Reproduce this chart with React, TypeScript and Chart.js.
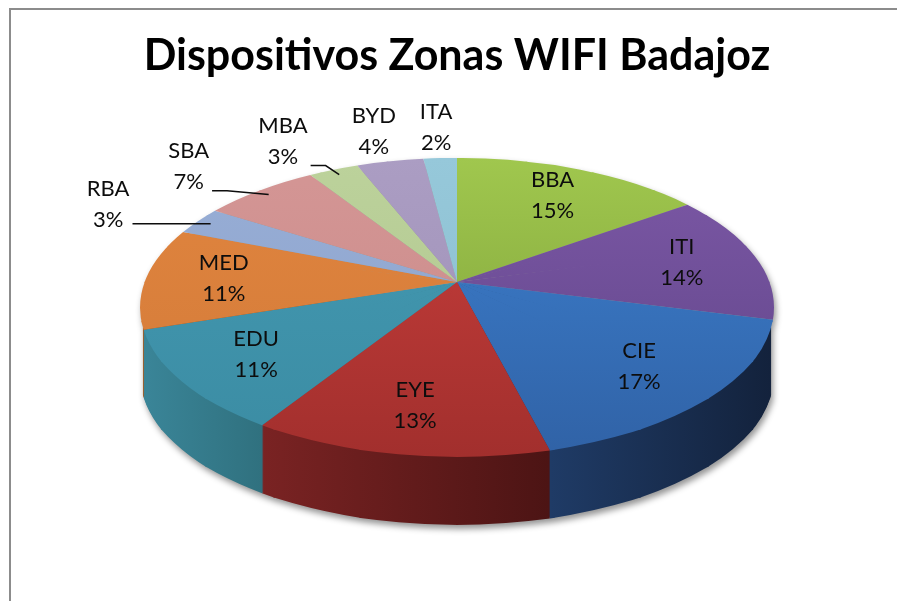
import React, { useEffect, useRef } from 'react';
import { Chart, registerables } from 'chart.js';

Chart.register(...registerables);

// ---- data ----
const categories = ['BBA', 'ITI', 'CIE', 'EYE', 'EDU', 'MED', 'RBA', 'SBA', 'MBA', 'BYD', 'ITA'];
const devicePercent = [15, 14, 17, 13, 11, 11, 3, 7, 3, 4, 2];
const chartTitle = 'Dispositivos Zonas WIFI Badajoz';

// ---- palette ----
const topLight = ['#a0c74e', '#7c58a6', '#3d80cf', '#c93f3c', '#449ab3', '#e1853f', '#98aed6', '#d49695', '#bcd29b', '#ab9dc3', '#96c8da'];
const topDark = ['#7a9c37', '#5f4487', '#3062a6', '#a22f2d', '#3b8ca3', '#d27a38', '#8ba2cb', '#c98988', '#afc48e', '#9d8fb5', '#89bccd'];
const sideLight = ['#6d8c2e', '#503973', '#1f3b66', '#7a2323', '#3a8598', '#b0642a', '#5f7aa0', '#9a5c5b', '#7f9460', '#6f5f87', '#5b8e9e'];
const sideDark = ['#5b7526', '#3f2c5c', '#13223c', '#4c1414', '#30717f', '#93521f', '#4d6688', '#824b4a', '#6b7e50', '#5c4e72', '#4b7a89'];

const FONT = 'Lato, "Open Sans", "DejaVu Sans", sans-serif';
const DEPTH = 68; // pixel height of the pie wall
const PERSPECTIVE = 0.17; // strength of the 3D perspective
const WALL_EDGE_DEG = 107; // where the visible wall begins / ends (clock angle)
const KEY_STEP_DEG = 15;
const HALF_PI = Math.PI / 2;

function drawArcWith(ctx: CanvasRenderingContext2D, arc: any, fill: any) {
  const fake = Object.create(arc);
  fake.options = { ...arc.options, backgroundColor: fill, borderWidth: 0 };
  fake.draw(ctx);
}

// maps a clock angle (0 = 12 o'clock, clockwise) and radial fraction to screen
function makeProjector(chart: any) {
  const arcs = chart.getDatasetMeta(0).data as any[];
  const a0 = arcs[0];
  const ca = chart.chartArea;
  const e = PERSPECTIVE;
  const rx = ca.width / 2;
  const A = rx * Math.sqrt(1 - e * e);
  const B = (ca.height * (1 - e * e)) / 2;
  const X0 = (ca.left + ca.right) / 2;
  const Y0 = ca.top + B / (1 + e);
  const proj = (phi: number, f = 1): [number, number] => {
    const u = f * Math.sin(phi);
    const w = f * Math.cos(phi);
    const s = 1 / (1 + e * w);
    return [X0 + A * u * s, Y0 - B * w * s];
  };
  const phiR = (WALL_EDGE_DEG * Math.PI) / 180;
  const phiL = 2 * Math.PI - phiR;
  return { proj, X0, Y0, ax: a0.x, ay: a0.y, R: a0.outerRadius, phiR, phiL };
}

function buildSectors(P: any) {
  const { proj, X0, Y0, ax, ay, R } = P;
  const n = Math.round(360 / KEY_STEP_DEG);
  const step = (2 * Math.PI) / n;
  const out: any[] = [];
  for (let k = 0; k < n; k++) {
    const f1 = k * step;
    const f2 = (k + 1) * step;
    const t1 = f1 - HALF_PI;
    const t2 = f2 - HALF_PI;
    const v1x = R * Math.cos(t1), v1y = R * Math.sin(t1);
    const v2x = R * Math.cos(t2), v2y = R * Math.sin(t2);
    const [q1x, q1y] = proj(f1);
    const [q2x, q2y] = proj(f2);
    const [qmx, qmy] = proj((f1 + f2) / 2);
    const p1x = q1x - X0, p1y = q1y - Y0;
    const p2x = q2x - X0, p2y = q2y - Y0;
    const pmx = qmx - X0, pmy = qmy - Y0;
    const det = v1x * v2y - v2x * v1y;
    const m00 = (p1x * v2y - p2x * v1y) / det;
    const m01 = (p2x * v1x - p1x * v2x) / det;
    const m10 = (p1y * v2y - p2y * v1y) / det;
    const m11 = (p2y * v1x - p1y * v2x) / det;
    const mat = [m00, m10, m01, m11, X0 - m00 * ax - m01 * ay, Y0 - m10 * ax - m11 * ay];
    const D = 1.0;
    const G = 1.35;
    let n1x = -p1y, n1y = p1x;
    let l = Math.hypot(n1x, n1y);
    n1x /= l; n1y /= l;
    if (n1x * p2x + n1y * p2y > 0) { n1x = -n1x; n1y = -n1y; }
    let n2x = -p2y, n2y = p2x;
    l = Math.hypot(n2x, n2y);
    n2x /= l; n2y /= l;
    if (n2x * p1x + n2y * p1y > 0) { n2x = -n2x; n2y = -n2y; }
    const lm = Math.hypot(pmx, pmy);
    const poly = [
      [X0 - (pmx / lm) * 1.5, Y0 - (pmy / lm) * 1.5],
      [X0 + G * p1x + n1x * D, Y0 + G * p1y + n1y * D],
      [X0 + G * pmx, Y0 + G * pmy],
      [X0 + G * p2x + n2x * D, Y0 + G * p2y + n2y * D],
    ];
    out.push({ f1, f2, mat, poly });
  }
  return out;
}

function screenGradient(ctx: CanvasRenderingContext2D, m: DOMMatrix, s0x: number, s0y: number, s1x: number, s1y: number, c0: string, c1: string) {
  const Dx = s1x - s0x;
  const Dy = s1y - s0y;
  const DD = Dx * Dx + Dy * Dy;
  const gx = (m.a * Dx + m.b * Dy) / DD;
  const gy = (m.c * Dx + m.d * Dy) / DD;
  const k = ((m.e - s0x) * Dx + (m.f - s0y) * Dy) / DD;
  const gg = gx * gx + gy * gy;
  const g0x = (-k * gx) / gg;
  const g0y = (-k * gy) / gg;
  const grad = ctx.createLinearGradient(g0x, g0y, g0x + gx / gg, g0y + gy / gg);
  grad.addColorStop(0, c0);
  grad.addColorStop(1, c1);
  return grad;
}

function drawSector(ctx: CanvasRenderingContext2D, arcs: any[], sec: any, fillFor: (i: number, m: DOMMatrix) => any) {
  ctx.save();
  ctx.beginPath();
  sec.poly.forEach((p: number[], j: number) => (j === 0 ? ctx.moveTo(p[0], p[1]) : ctx.lineTo(p[0], p[1])));
  ctx.closePath();
  ctx.clip();
  const t = sec.mat;
  ctx.transform(t[0], t[1], t[2], t[3], t[4], t[5]);
  const m = ctx.getTransform();
  arcs.forEach((a, i) => {
    const s = a.startAngle + HALF_PI;
    const e = a.endAngle + HALF_PI;
    if (e < sec.f1 - 0.02 || s > sec.f2 + 0.02) return;
    drawArcWith(ctx, a, fillFor(i, m));
  });
  ctx.restore();
}

const pie3d = {
  id: 'pie3d',
  beforeDraw(chart: any) {
    const { ctx, width, height } = chart;
    ctx.save();
    ctx.strokeStyle = '#8c8c8c';
    ctx.lineWidth = 2;
    ctx.beginPath();
    ctx.moveTo(10, height + 2);
    ctx.lineTo(10, 9);
    ctx.lineTo(width + 2, 9);
    ctx.stroke();
    ctx.restore();
  },
  beforeDatasetsDraw(chart: any) {
    const { ctx, chartArea, width, height } = chart;
    const arcs = chart.getDatasetMeta(0).data as any[];
    if (!arcs.length) return false;
    const P = makeProjector(chart);
    const sectors = buildSectors(P);

    const off = document.createElement('canvas');
    off.width = width;
    off.height = height;
    const octx = off.getContext('2d') as CanvasRenderingContext2D;

    // horizontal extent of each slice's visible wall
    const wallRange = arcs.map((a) => {
      const lo = Math.max(a.startAngle + HALF_PI, P.phiR);
      const hi = Math.min(a.endAngle + HALF_PI, P.phiL);
      if (hi <= lo) return [chartArea.left, chartArea.right];
      let mn = Infinity, mx = -Infinity;
      for (let j = 0; j <= 16; j++) {
        const x = P.proj(lo + ((hi - lo) * j) / 16)[0];
        mn = Math.min(mn, x);
        mx = Math.max(mx, x);
      }
      if (mx - mn < 2) mx = mn + 2;
      return [mn, mx];
    });
    const sideFill = (i: number, m: DOMMatrix) =>
      screenGradient(octx, m, wallRange[i][0], 0, wallRange[i][1], 0, sideLight[i], sideDark[i]);
    const wallSectors = sectors.filter((s) => s.f2 > P.phiR && s.f1 < P.phiL);
    const wallPoly: number[][] = [[P.X0, P.Y0]];
    for (let j = 0; j <= 32; j++) {
      wallPoly.push(P.proj(P.phiR + ((P.phiL - P.phiR) * j) / 32, 1.4));
    }

    // walls
    for (let dy = DEPTH; dy >= 1; dy--) {
      octx.save();
      octx.translate(0, dy);
      octx.beginPath();
      wallPoly.forEach((p, j) => (j === 0 ? octx.moveTo(p[0], p[1]) : octx.lineTo(p[0], p[1])));
      octx.closePath();
      octx.clip();
      wallSectors.forEach((sec) => drawSector(octx, arcs, sec, sideFill));
      octx.restore();
    }

    // top face
    sectors.forEach((sec) =>
      drawSector(octx, arcs, sec, (i, m) =>
        screenGradient(octx, m, 0, chartArea.top, 0, chartArea.bottom, topLight[i], topDark[i])
      )
    );

    // composite onto the chart with a soft drop shadow
    ctx.save();
    ctx.shadowColor = 'rgba(0,0,0,0.42)';
    ctx.shadowBlur = 6;
    ctx.shadowOffsetX = 2;
    ctx.shadowOffsetY = 4;
    ctx.drawImage(off, 0, 0, width, height);
    ctx.restore();
    return false;
  },
  afterDraw(chart: any) {
    const { ctx } = chart;
    const arcs = chart.getDatasetMeta(0).data as any[];
    if (!arcs.length) return;
    const P = makeProjector(chart);
    const values = chart.data.datasets[0].data as number[];
    const labels = chart.data.labels as string[];
    const total = values.reduce((s, v) => s + v, 0);

    ctx.save();
    ctx.font = `22px ${FONT}`;
    ctx.fillStyle = '#0d0d0d';
    ctx.strokeStyle = '#0d0d0d';
    ctx.textAlign = 'center';
    ctx.textBaseline = 'middle';
    arcs.forEach((a, i) => {
      const mid = (a.startAngle + a.endAngle) / 2 + HALF_PI;
      const share = values[i] / total;
      const outside = share < 0.08;
      const u = Math.sin(mid);
      const leader = outside && Math.abs(u) > 0.35;
      let [lx, ly] = P.proj(mid, outside ? 1.3 : 0.75);
      if (leader) lx += Math.sign(u) * 20;
      const l1 = labels[i];
      const l2 = Math.round(share * 100) + '%';
      ctx.fillText(l1, lx, ly - 15.5);
      ctx.fillText(l2, lx, ly + 15.5);
      if (leader) {
        const w = Math.max(ctx.measureText(l1).width, ctx.measureText(l2).width);
        const side = u < 0 ? 1 : -1;
        const [ex, ey] = P.proj(mid, 0.95);
        const x0 = lx + side * (w / 2 + 3);
        const y0 = Math.min(Math.max(ey, ly - 18), ly + 24);
        const seg = Math.min(15, Math.max(0, (ex - x0) * side - 8));
        ctx.lineWidth = 1.5;
        ctx.beginPath();
        ctx.moveTo(x0, y0);
        ctx.lineTo(x0 + side * seg, y0);
        ctx.lineTo(ex, ey);
        ctx.stroke();
      }
    });
    ctx.restore();
  },
};

export default function App() {
  const canvasRef = useRef<HTMLCanvasElement | null>(null);

  useEffect(() => {
    if (!canvasRef.current) return;
    const chart = new Chart(canvasRef.current, {
      type: 'pie',
      data: {
        labels: categories,
        datasets: [
          {
            data: devicePercent,
            backgroundColor: topLight,
            borderWidth: 0,
          },
        ],
      },
      options: {
        responsive: false,
        devicePixelRatio: 1,
        animation: false,
        events: [],
        layout: { padding: { left: 140, right: 123, top: 0, bottom: 144 } },
        plugins: {
          legend: { display: false },
          tooltip: { enabled: false },
          title: {
            display: true,
            text: chartTitle,
            color: '#000',
            font: { family: FONT, size: 43, weight: 'bold', lineHeight: 1.2 },
            padding: { top: 30.6, bottom: 75.8 },
          },
        },
      },
      plugins: [pie3d],
    });
    return () => chart.destroy();
  }, []);

  return (
    <div style={{ position: 'absolute', left: 0, top: 0, width: 897, height: 601, background: '#fff' }}>
      <canvas ref={canvasRef} width={897} height={601} style={{ display: 'block' }} />
    </div>
  );
}
